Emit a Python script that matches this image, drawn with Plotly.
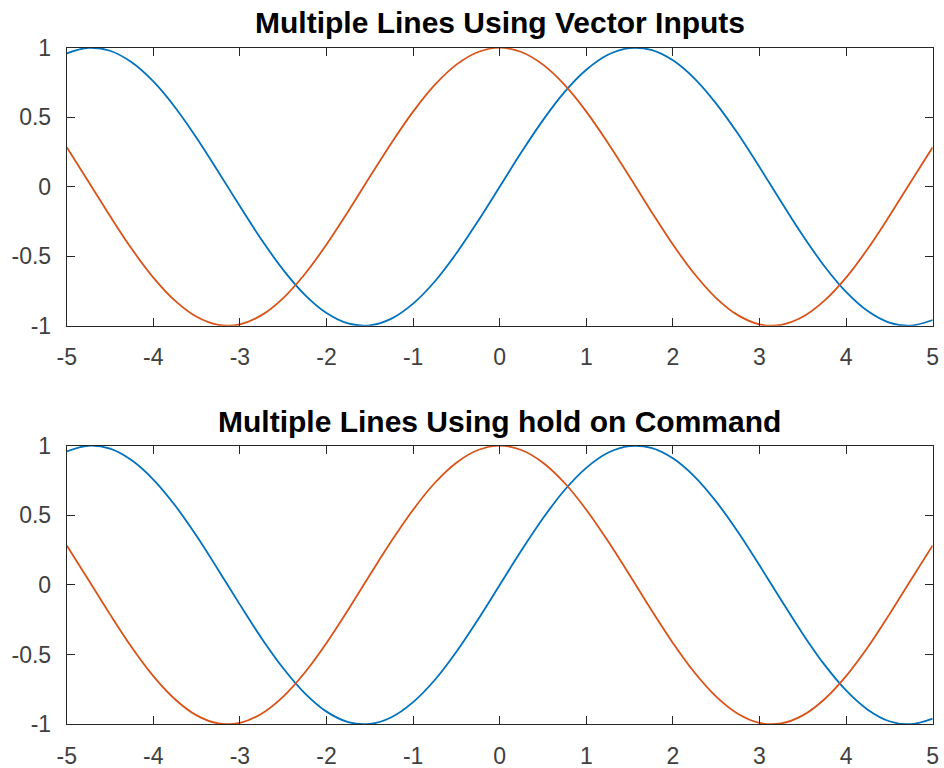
import plotly.graph_objects as go
from plotly.subplots import make_subplots

# valeurs (pas de 0.25)
x = [-5.0, -4.75, -4.5, -4.25, -4.0, -3.75, -3.5, -3.25, -3.0, -2.75, -2.5,
     -2.25, -2.0, -1.75, -1.5, -1.25, -1.0, -0.75, -0.5, -0.25, 0.0,
     0.25, 0.5, 0.75, 1.0, 1.25, 1.5, 1.75, 2.0, 2.25, 2.5,
     2.75, 3.0, 3.25, 3.5, 3.75, 4.0, 4.25, 4.5, 4.75, 5.0]

y_sin = [0.959, 0.999, 0.978, 0.895, 0.757, 0.572, 0.351, 0.108, -0.141, -0.382, -0.598,
         -0.778, -0.909, -0.984, -0.997, -0.949, -0.841, -0.682, -0.479, -0.247, 0.000,
         0.247, 0.479, 0.682, 0.841, 0.949, 0.997, 0.984, 0.909, 0.778, 0.598,
         0.382, 0.141, -0.108, -0.351, -0.572, -0.757, -0.895, -0.978, -0.999, -0.959]

y_cos = [0.284, 0.038, -0.211, -0.447, -0.654, -0.820, -0.936, -0.994, -0.990, -0.924, -0.801,
         -0.628, -0.416, -0.178, 0.071, 0.315, 0.540, 0.732, 0.878, 0.969, 1.000,
         0.969, 0.878, 0.732, 0.540, 0.315, 0.071, -0.178, -0.416, -0.628, -0.801,
         -0.924, -0.990, -0.994, -0.936, -0.820, -0.654, -0.447, -0.211, 0.038, 0.284]

titres = ['Multiple Lines Using Vector Inputs', 'Multiple Lines Using hold on Command']
x_ticks = [-5, -4, -3, -2, -1, 0, 1, 2, 3, 4, 5]
x_labels = ['-5', '-4', '-3', '-2', '-1', '0', '1', '2', '3', '4', '5']
y_ticks = [-1, -0.5, 0, 0.5, 1]
y_labels = ['-1', '-0.5', '0', '0.5', '1']

bleu = '#0072BD'
orange = '#D95319'
gris = '#262626'

fig = make_subplots(rows=2, cols=1)

for r in (1, 2):
    fig.add_trace(go.Scatter(x=x, y=y_sin, mode='lines', line=dict(color=bleu, width=1.8, shape='spline'),
                             showlegend=False), row=r, col=1)
    fig.add_trace(go.Scatter(x=x, y=y_cos, mode='lines', line=dict(color=orange, width=1.8, shape='spline'),
                             showlegend=False), row=r, col=1)

axe = dict(showline=True, linecolor=gris, linewidth=1, mirror='ticks',
           ticks='inside', ticklen=8, tickcolor=gris, tickwidth=1,
           showgrid=False, zeroline=False, automargin=False,
           tickfont=dict(family='Liberation Sans, Arial', size=23, color='#404040'))

fig.update_xaxes(range=[-5, 5], tickvals=x_ticks, ticktext=x_labels, ticklabelstandoff=11, **axe)
fig.update_yaxes(range=[-1, 1], tickvals=y_ticks, ticktext=y_labels, ticklabelstandoff=10, **axe)

fig.update_layout(
    width=944, height=768,
    margin=dict(l=0, r=0, t=0, b=0),
    plot_bgcolor='white', paper_bgcolor='white',
    xaxis=dict(domain=[0.0707, 0.988]),
    xaxis2=dict(domain=[0.0707, 0.988]),
    yaxis=dict(domain=[0.5759, 0.9379]),
    yaxis2=dict(domain=[0.0569, 0.4197]),
)

for titre, yp in zip(titres, [1 - 23 / 768, 1 - 421 / 768]):
    fig.add_annotation(text='<b>' + titre + '</b>', x=0.5293, y=yp, xref='paper', yref='paper',
                       showarrow=False, xanchor='center', yanchor='middle',
                       font=dict(family='Liberation Sans, Arial', size=30, color='black'))

# enlever la marge par défaut de la page
fig.write_html("out.html", config={'displayModeBar': False},
               post_script="document.body.style.margin='0';")
